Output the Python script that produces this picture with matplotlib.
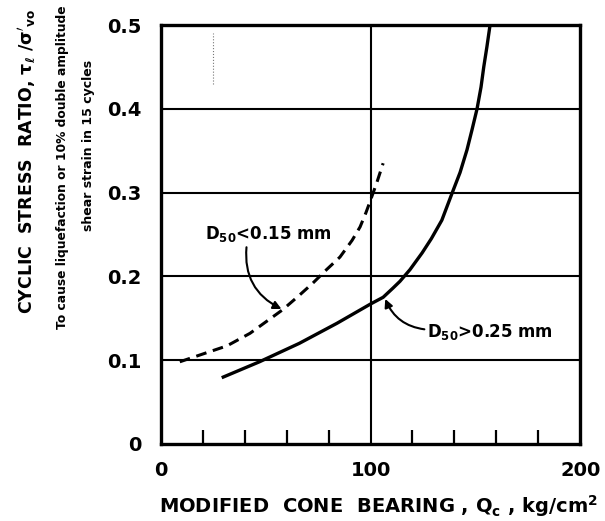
import numpy as np
import matplotlib.pyplot as plt

plt.rcParams['font.family'] = ['DejaVu Sans']
plt.rcParams['font.weight'] = 'bold'
plt.rcParams['mathtext.fontset'] = 'dejavusans'
plt.rcParams['mathtext.default'] = 'bf'

# кривая D50 > 0.25 mm (сплошная)
qc_coarse = [29, 47, 66, 84, 100, 106, 110.7, 114, 118.8, 124.6, 129, 134, 139,
             142.7, 146, 148.4, 150.8, 152.7, 154, 155.5, 157]
csr_coarse = [0.079, 0.098, 0.120, 0.144, 0.167, 0.175, 0.186, 0.194, 0.208, 0.228, 0.245, 0.267, 0.300,
              0.324, 0.351, 0.375, 0.400, 0.426, 0.450, 0.474, 0.500]

# кривая D50 < 0.15 mm (штриховая)
qc_fine = [9, 22, 31.5, 42.5, 58, 65.4, 72.5, 79, 85.4, 91.2, 95, 97.8, 100, 103, 106]
csr_fine = [0.098, 0.109, 0.117, 0.132, 0.160, 0.176, 0.192, 0.208, 0.223, 0.243, 0.259, 0.276, 0.291, 0.312, 0.335]

x_ticks = [0, 100, 200]
x_minor = [20, 40, 60, 80, 120, 140, 160, 180]
y_ticks = [0, 0.1, 0.2, 0.3, 0.4, 0.5]
y_labels = ['0', '0.1', '0.2', '0.3', '0.4', '0.5']

fig = plt.figure(figsize=(6.05, 5.21), dpi=100)
ax = fig.add_axes([0.266, 0.148, 0.693, 0.804])

ax.set_xlim(0, 200)
ax.set_ylim(0, 0.5)

# сетка
for y in y_ticks[1:-1]:
    ax.axhline(y, color='black', lw=1.5)
ax.axvline(100, color='black', lw=1.5)

ax.plot(qc_coarse, csr_coarse, color='black', lw=2.4, solid_capstyle='butt', solid_joinstyle='round')
ax.plot(qc_fine, csr_fine, color='black', lw=2.2, dashes=(3.5, 2.2))

# артефакт скана
ax.plot([25, 25], [0.43, 0.49], color='#777777', lw=0.8, ls=':')

ax.set_xticks(x_ticks)
ax.set_xticklabels([str(v) for v in x_ticks])
ax.set_xticks(x_minor, minor=True)
ax.set_yticks(y_ticks)
ax.set_yticklabels(y_labels)
ax.tick_params(axis='x', which='major', length=0, pad=12, labelsize=14)
ax.tick_params(axis='x', which='minor', direction='in', length=10, width=1.6)
ax.tick_params(axis='y', length=0, pad=14, labelsize=14)
for s in ax.spines.values():
    s.set_linewidth(2.4)

ax.annotate(r'D$_{50}$<0.15 mm', xy=(57.5, 0.161), xytext=(21, 0.25),
            fontsize=12, va='center', ha='left',
            arrowprops=dict(arrowstyle='-|>', color='black', lw=1.5,
                            shrinkA=0, shrinkB=0, mutation_scale=12,
                            relpos=(0.33, 0.0),
                            connectionstyle='arc3,rad=0.35'))
ax.annotate(r'D$_{50}$>0.25 mm', xy=(107, 0.173), xytext=(127, 0.134),
            fontsize=12, va='center', ha='left',
            arrowprops=dict(arrowstyle='-|>', color='black', lw=1.5,
                            shrinkA=0, shrinkB=0, mutation_scale=12,
                            relpos=(0.0, 0.6),
                            connectionstyle='arc3,rad=-0.3'))

fig.text(0.625, 0.028, r'MODIFIED  CONE  BEARING , Q$_c$ , kg/cm$^2$',
         ha='center', va='center', fontsize=14)
fig.text(0.046, 0.69, r"CYCLIC  STRESS  RATIO, $\tau_\ell$ /$\sigma'_{vo}$",
         rotation=90, ha='center', va='center', fontsize=12.5)
fig.text(0.104, 0.68, 'To cause liquefaction or 10% double amplitude',
         rotation=90, ha='center', va='center', fontsize=8.8)
fig.text(0.147, 0.72, 'shear strain in 15 cycles',
         rotation=90, ha='center', va='center', fontsize=9)

fig.savefig('out.png', dpi=100)
